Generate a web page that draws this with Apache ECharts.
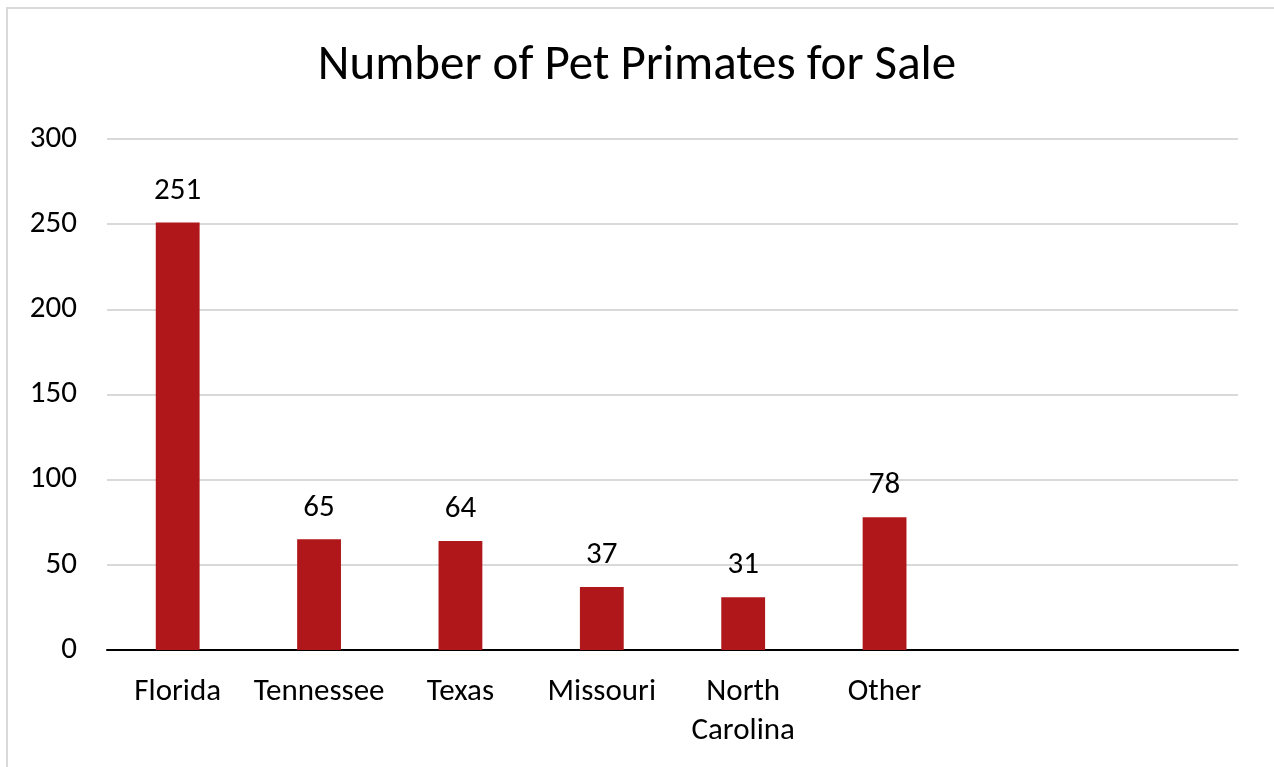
<!DOCTYPE html>
<html>
<head>
<meta charset="utf-8">
<script src="https://cdn.jsdelivr.net/npm/echarts@6/dist/echarts.min.js"></script>
<style>
html,body{margin:0;padding:0;background:#fff;}
#chart{width:1274px;height:767px;}
</style>
</head>
<body>
<div id="chart"></div>
<script>
const categories = ['Florida', 'Tennessee', 'Texas', 'Missouri', 'North\nCarolina', 'Other', '', ''];
const values = [251, 65, 64, 37, 31, 78, '-', '-'];
const yTicks = { min: 0, max: 300, interval: 50 };
const titleText = 'Number of Pet Primates for Sale';

const FONT = 'Carlito, Lato, sans-serif';
const chart = echarts.init(document.getElementById('chart'));
chart.setOption({
  backgroundColor: '#fff',
  animation: false,
  title: {
    text: titleText,
    left: 'center',
    top: 37,
    textStyle: { fontFamily: FONT, fontSize: 49, fontWeight: 'normal', color: '#000' }
  },
  graphic: [{
    type: 'rect',
    shape: { x: 7, y: 8, width: 1300, height: 800 },
    style: { fill: 'none', stroke: '#d9d9d9', lineWidth: 2 },
    silent: true
  }],
  grid: { left: 107, right: 36, top: 139, bottom: 117, containLabel: false },
  xAxis: {
    type: 'category',
    data: categories,
    axisLine: { lineStyle: { color: '#000', width: 2 } },
    axisTick: { show: false },
    axisLabel: { fontFamily: FONT, fontSize: 31, color: '#000', margin: 23, lineHeight: 39, interval: 0 },
    splitLine: { show: false }
  },
  yAxis: {
    type: 'value',
    min: yTicks.min, max: yTicks.max, interval: yTicks.interval,
    axisLine: { show: false },
    axisTick: { show: false },
    axisLabel: { fontFamily: FONT, fontSize: 31, color: '#000', margin: 30 },
    splitLine: { lineStyle: { color: '#d9d9d9', width: 2 } }
  },
  series: [{
    type: 'bar',
    data: values,
    barWidth: '31%',
    itemStyle: { color: '#b0171a' },
    label: { show: true, position: 'top', distance: 16, fontFamily: FONT, fontSize: 31, color: '#000' }
  }]
});
</script>
</body>
</html>
